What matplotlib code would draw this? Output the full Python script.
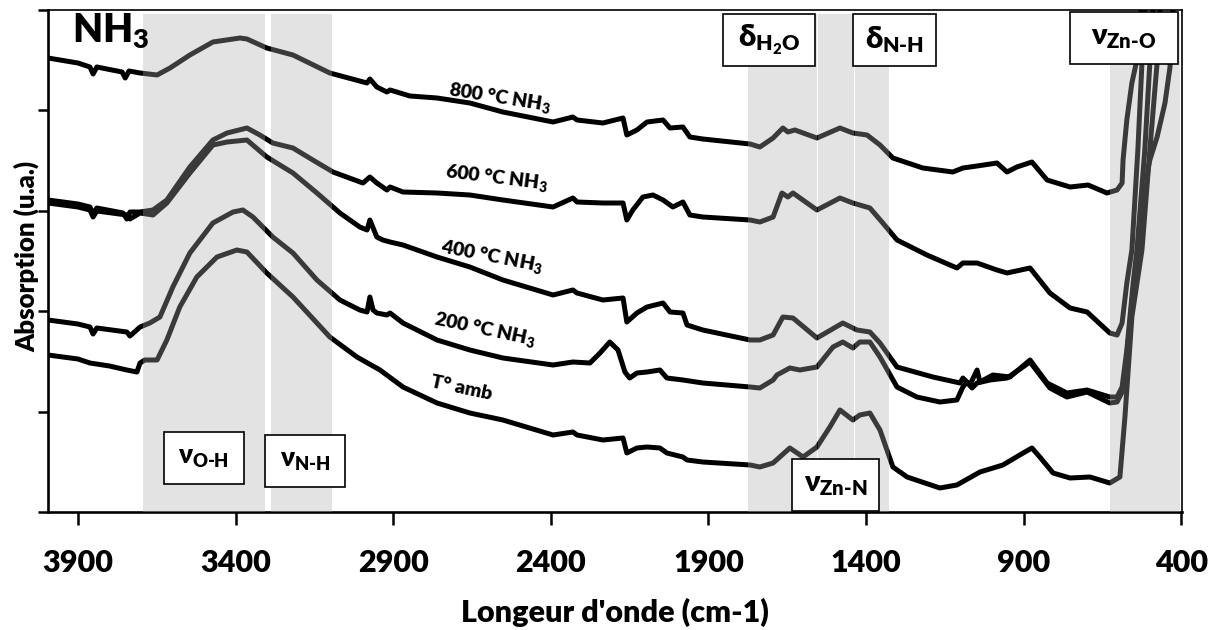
import matplotlib
matplotlib.use("Agg")
import matplotlib.pyplot as plt
from matplotlib.patches import Rectangle
import numpy as np

# ---- spectra (wavenumber in cm-1, absorbance in arbitrary units, offset stack) ----
wn_800 = [3995, 3900, 3862, 3852, 3840, 3760, 3750, 3738, 3703, 3649, 3608, 3545, 3472, 3386,
          3364, 3301, 3218, 3101, 2983, 2974, 2952, 2920, 2910, 2847, 2761, 2657, 2552, 2393,
          2330, 2317, 2235, 2171, 2159, 2127, 2095, 2044, 2022, 1981, 1959, 1918, 1768, 1737,
          1695, 1664, 1648, 1626, 1556, 1483, 1442, 1397, 1356, 1315, 1220, 1125, 1093, 1048,
          985, 953, 922, 874, 826, 753, 696, 636, 604, 588, 585, 573, 557, 541, 528, 522]
ab_800 = [4.54, 4.49, 4.45, 4.38, 4.45, 4.40, 4.34, 4.41, 4.39, 4.37, 4.44, 4.57, 4.70, 4.74,
          4.73, 4.64, 4.57, 4.39, 4.29, 4.33, 4.25, 4.20, 4.22, 4.16, 4.14, 4.09, 4.00, 3.90,
          3.95, 3.92, 3.89, 3.94, 3.77, 3.82, 3.90, 3.92, 3.84, 3.85, 3.75, 3.73, 3.68, 3.65,
          3.74, 3.84, 3.80, 3.82, 3.74, 3.84, 3.79, 3.77, 3.67, 3.54, 3.44, 3.40, 3.44, 3.46,
          3.49, 3.40, 3.45, 3.50, 3.32, 3.25, 3.27, 3.19, 3.22, 3.29, 3.52, 3.92, 4.29, 4.52,
          5.02, 5.32]

wn_600 = [3995, 3900, 3862, 3852, 3840, 3757, 3745, 3735, 3703, 3662, 3618, 3545, 3472, 3427,
          3364, 3323, 3282, 3218, 3155, 3091, 2996, 2974, 2952, 2920, 2910, 2869, 2761, 2657,
          2552, 2393, 2330, 2317, 2235, 2171, 2159, 2140, 2108, 2076, 2044, 2013, 1981, 1959,
          1918, 1768, 1737, 1695, 1667, 1648, 1632, 1556, 1483, 1442, 1388, 1347, 1302, 1207,
          1112, 1093, 1048, 985, 953, 880, 817, 753, 699, 627, 604, 588, 573, 557, 538, 525,
          516, 509]
ab_600 = [3.12, 3.08, 3.05, 2.98, 3.04, 2.99, 2.93, 3.00, 3.00, 3.02, 3.12, 3.45, 3.72, 3.79,
          3.84, 3.77, 3.69, 3.64, 3.52, 3.40, 3.29, 3.35, 3.29, 3.22, 3.25, 3.20, 3.19, 3.17,
          3.12, 3.05, 3.14, 3.10, 3.09, 3.09, 2.92, 3.02, 3.15, 3.17, 3.12, 3.05, 3.10, 2.97,
          2.95, 2.92, 2.90, 2.95, 3.19, 3.15, 3.19, 3.02, 3.14, 3.09, 3.04, 2.89, 2.72, 2.57,
          2.44, 2.49, 2.49, 2.42, 2.39, 2.44, 2.19, 2.04, 2.00, 1.79, 1.77, 1.89, 2.29, 2.62,
          3.62, 4.49, 5.02, 5.32]

wn_400 = [3995, 3900, 3862, 3852, 3840, 3745, 3735, 3703, 3662, 3618, 3545, 3472, 3427, 3364,
          3301, 3218, 3142, 3069, 3006, 2983, 2974, 2952, 2933, 2910, 2869, 2761, 2657, 2552,
          2393, 2330, 2317, 2235, 2171, 2159, 2127, 2095, 2044, 2022, 1981, 1968, 1918, 1768,
          1737, 1695, 1664, 1632, 1556, 1474, 1429, 1388, 1356, 1302, 1188, 1102, 1093, 1071,
          1048, 1039, 998, 944, 880, 826, 763, 699, 627, 604, 588, 573, 553, 541, 516, 500,
          490, 484]
ab_400 = [3.09, 3.05, 3.02, 2.95, 3.01, 2.97, 2.93, 2.99, 2.97, 3.09, 3.39, 3.67, 3.70, 3.72,
          3.55, 3.39, 3.19, 2.99, 2.85, 2.82, 2.92, 2.75, 2.72, 2.70, 2.67, 2.55, 2.45, 2.32,
          2.17, 2.22, 2.19, 2.12, 2.14, 1.90, 1.99, 2.05, 2.09, 2.00, 1.99, 1.87, 1.82, 1.72,
          1.72, 1.77, 1.95, 1.94, 1.74, 1.89, 1.82, 1.80, 1.69, 1.45, 1.35, 1.29, 1.34, 1.27,
          1.42, 1.30, 1.37, 1.35, 1.52, 1.29, 1.19, 1.22, 1.15, 1.15, 1.25, 1.62, 2.29, 2.62,
          3.62, 4.49, 5.02, 5.32]

wn_200 = [3995, 3900, 3862, 3852, 3840, 3745, 3735, 3703, 3672, 3640, 3599, 3545, 3472, 3408,
          3377, 3345, 3282, 3218, 3142, 3069, 3006, 2983, 2974, 2964, 2952, 2920, 2910, 2869,
          2761, 2657, 2552, 2393, 2330, 2276, 2244, 2213, 2187, 2165, 2150, 2127, 2095, 2054,
          2032, 1981, 1918, 1768, 1737, 1695, 1683, 1642, 1610, 1556, 1505, 1474, 1442, 1420,
          1388, 1356, 1302, 1239, 1166, 1112, 1093, 1080, 1064, 1048, 1007, 953, 880, 817,
          763, 699, 627, 604, 588, 573, 553, 531, 506, 500, 477, 452, 436, 427, 423]
ab_200 = [1.92, 1.88, 1.85, 1.78, 1.84, 1.80, 1.76, 1.85, 1.89, 1.95, 2.25, 2.59, 2.89, 3.00,
          3.02, 2.95, 2.75, 2.59, 2.32, 2.12, 2.02, 2.00, 2.15, 2.02, 1.99, 1.97, 1.99, 1.89,
          1.72, 1.62, 1.54, 1.47, 1.50, 1.49, 1.59, 1.70, 1.62, 1.40, 1.34, 1.39, 1.40, 1.42,
          1.34, 1.32, 1.29, 1.25, 1.24, 1.32, 1.37, 1.44, 1.42, 1.45, 1.65, 1.70, 1.64, 1.70,
          1.70, 1.55, 1.25, 1.15, 1.10, 1.12, 1.25, 1.30, 1.24, 1.29, 1.32, 1.34, 1.50, 1.24,
          1.15, 1.20, 1.09, 1.10, 1.20, 1.57, 2.22, 2.62, 3.42, 3.52, 3.75, 4.09, 4.45, 5.02,
          5.32]

wn_amb = [3995, 3900, 3862, 3800, 3745, 3713, 3703, 3688, 3649, 3618, 3577, 3523, 3459, 3396,
          3364, 3301, 3218, 3101, 3015, 2942, 2869, 2761, 2657, 2552, 2393, 2330, 2317, 2235,
          2171, 2159, 2127, 2095, 2054, 2032, 1981, 1968, 1918, 1768, 1737, 1695, 1642, 1600,
          1556, 1515, 1483, 1442, 1420, 1388, 1356, 1315, 1270, 1166, 1112, 1039, 966, 902,
          874, 849, 807, 753, 690, 627, 595, 579, 557, 525, 500, 477, 468, 465]
ab_amb = [1.57, 1.53, 1.49, 1.46, 1.42, 1.40, 1.49, 1.52, 1.52, 1.72, 2.05, 2.35, 2.55, 2.62,
          2.60, 2.39, 2.15, 1.75, 1.55, 1.42, 1.25, 1.09, 0.99, 0.92, 0.77, 0.80, 0.77, 0.72,
          0.74, 0.59, 0.64, 0.65, 0.64, 0.59, 0.55, 0.52, 0.50, 0.47, 0.45, 0.49, 0.64, 0.55,
          0.65, 0.85, 1.02, 0.92, 0.97, 0.99, 0.82, 0.45, 0.35, 0.24, 0.27, 0.40, 0.47, 0.59,
          0.64, 0.55, 0.39, 0.34, 0.35, 0.29, 0.35, 0.95, 1.95, 2.62, 3.62, 4.49, 5.02, 5.32]

# curve labels
curve_labels = ["800 °C NH$_3$", "600 °C NH$_3$", "400 °C NH$_3$", "200 °C NH$_3$", "T° amb"]
label_wn = [2562, 2571, 2587, 2609, 2682]
label_ab = [4.14, 3.34, 2.55, 1.82, 1.24]
label_rot = [-9, -7, -11, -12, -12]

# vibration bands (cm-1)
band_edges = [(3694, 3307), (3288, 3094), (1775, 1556), (1553, 1439), (1436, 1328), (627, 405)]

# band annotation boxes: text, wn left, wn right, ab bottom, ab top
box_text = [r"$ν_{\mathregular{O\text{-}H}}$", r"$ν_{\mathregular{N\text{-}H}}$",
            r"$δ_{\mathregular{H_2O}}$", r"$δ_{\mathregular{N\text{-}H}}$",
            r"$ν_{\mathregular{Zn\text{-}O}}$", r"$ν_{\mathregular{Zn\text{-}N}}$"]
box_size = [19, 19, 22, 22, 21, 21]
box_wn = [(3627, 3374), (3307, 3053), (1854, 1562), (1442, 1178), (753, 411), (1635, 1359)]
box_ab = [(0.28, 0.80), (0.25, 0.77), (4.46, 4.98), (4.46, 4.98), (4.48, 5.00), (0.01, 0.53)]

x_ticks = [3900, 3400, 2900, 2400, 1900, 1400, 900, 400]

plt.rcParams["font.family"] = ["Lato", "DejaVu Sans"]
plt.rcParams["font.weight"] = "heavy"
plt.rcParams["mathtext.fontset"] = "custom"
plt.rcParams["mathtext.rm"] = "Lato:heavy"
plt.rcParams["mathtext.it"] = "Lato:heavy"
plt.rcParams["mathtext.bf"] = "Lato:heavy"
plt.rcParams["mathtext.fallback"] = "stixsans"

fig = plt.figure(figsize=(12.18, 6.30), dpi=100)
ax = fig.add_axes([48 / 1218, 1 - 512 / 630, (1182 - 48) / 1218, (512 - 10) / 630])

series = [(wn_800, ab_800), (wn_600, ab_600), (wn_400, ab_400), (wn_200, ab_200), (wn_amb, ab_amb)]
for wn, ab in series:
    ax.plot(wn, ab, color="black", lw=3.6, solid_joinstyle="round", solid_capstyle="round",
            zorder=2)

for lo, hi in band_edges:
    ax.axvspan(lo, hi, ymin=0, ymax=4.98 / 5.02, facecolor=(0.68, 0.68, 0.68, 0.34),
               edgecolor="none", zorder=3)

for txt, fs, (x0, x1), (y0, y1) in zip(box_text, box_size, box_wn, box_ab):
    ax.add_patch(Rectangle((x1, y0), x0 - x1, y1 - y0, facecolor="white", edgecolor="black",
                           lw=1.2, zorder=5))
    ax.text((x0 + x1) / 2, (y0 + y1) / 2, txt, ha="center", va="center", fontsize=fs,
            fontweight="heavy", zorder=6)

for txt, x, y, r in zip(curve_labels, label_wn, label_ab, label_rot):
    ax.text(x, y, txt, ha="center", va="center", rotation=r, rotation_mode="anchor",
            fontsize=14, fontweight="heavy", zorder=6)

ax.text(3919, 4.69, "NH$_3$", ha="left", va="baseline", fontsize=28, fontweight="heavy", zorder=6)

ax.set_xlim(3995, 398)
ax.set_ylim(0, 5.02)
ax.set_xticks(x_ticks)
ax.set_xticklabels([str(t) for t in x_ticks])
ax.set_yticks(np.linspace(0, 5.02, 6))
ax.tick_params(axis="x", direction="out", length=9, width=1.8, pad=18, labelsize=22)
ax.tick_params(axis="y", direction="out", length=7.5, width=1.8, labelleft=False)
for side in ["left", "bottom"]:
    ax.spines[side].set_linewidth(1.9)
for side in ["top", "right"]:
    ax.spines[side].set_linewidth(1.2)

ax.set_xlabel("Longeur d'onde (cm-1)", fontsize=22, fontweight="heavy", labelpad=15)
ax.set_ylabel("Absorption (u.a.)", fontsize=18.5, fontweight="heavy")
ax.yaxis.set_label_coords(-0.008, 0.51)

fig.savefig("out.png", dpi=100)
